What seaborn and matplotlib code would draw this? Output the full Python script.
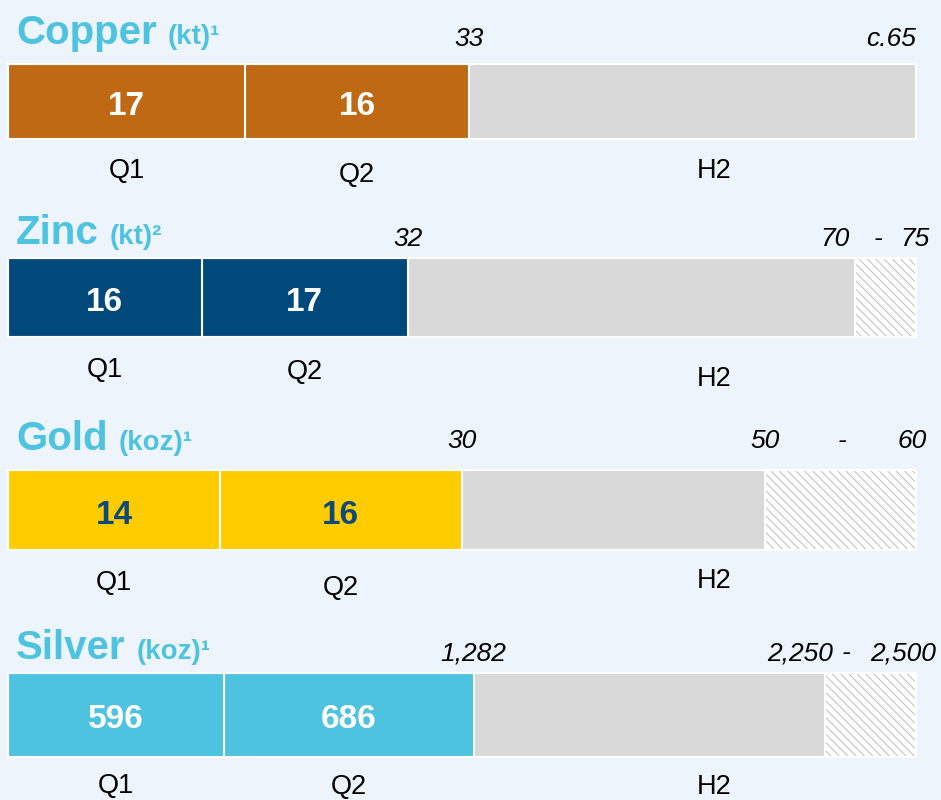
import numpy as np
import pandas as pd
import matplotlib
matplotlib.use('Agg')
from matplotlib import pyplot as plt
import seaborn as sns


metals = ['Copper', 'Zinc', 'Gold', 'Silver']
units = ['(kt)¹', '(kt)²', '(koz)¹', '(koz)¹']
q1 = [17, 16, 14, 596]
q2 = [16, 17, 16, 686]
guide_low = [65, 70, 50, 2250]
guide_high = [65, 75, 60, 2500]
q1_labels = ['17', '16', '14', '596']
q2_labels = ['16', '17', '16', '686']
h1_labels = ['33', '32', '30', '1,282']
low_labels = ['c.65', '70', '50', '2,250']
high_labels = [None, '75', '60', '2,500']
periods = ['Q1', 'Q2', 'H2']

bar_colors = ['#BF6914', '#00497A', '#FFCC00', '#4EC3E0']
value_colors = ['white', 'white', '#0D4A7A', 'white']

BG = '#EEF4FC'
GREY = '#D9D9D9'
HATCH = '#BDBDBD'
TITLE_COLOR = '#4EC3E0'

# layout, in pixels of the 941 x 800 figure
W, H = 941, 800
bar_left, bar_right = 8, 916
bar_rows = [(64, 139), (258, 337), (470, 550), (673, 757)]
title_dy = [20, 14, 20, 14]
total_dy = [17.5, 12.5, 22.5, 12.5]
period_dy = [(39, 43, 39), (40, 42, 49), (40, 45, 38), (36, 37, 37)]
low_pos = [('right', 0), ('right', -6), ('center', 0), ('right', 8)]
dash_dx = [None, 23, 77, 21]
high_pos = [None, ('center', -1), ('center', -4), ('right', 20)]
H2_X = 0.778
PT = 0.72  # px -> points at 100 dpi


def put(ax, text, x, yfrac, dx, dy, xcoords='data', **kw):
    """文字标注，偏移量以像素计"""
    return ax.annotate(text, xy=(x, yfrac), xycoords=(xcoords, 'axes fraction'),
                       xytext=(dx * PT, dy * PT), textcoords='offset points',
                       annotation_clip=False, **kw)


def segment(ax, metal, start, width, **kw):
    sns.barplot(x=[width], y=[metal], orient='h', left=start, width=1,
                saturation=1, errorbar=None, clip_on=False, ax=ax, **kw)


sns.set_theme(style='white')
plt.rcParams['font.family'] = ['Liberation Sans', 'DejaVu Sans']
plt.rcParams['hatch.linewidth'] = 0.7

fig = plt.figure(figsize=(W / 100, H / 100), dpi=100, facecolor=BG)

for i, metal in enumerate(metals):
    top, bottom = bar_rows[i]
    ax = fig.add_axes([bar_left / W, 1 - bottom / H,
                       (bar_right - bar_left) / W, (bottom - top) / H])
    h1_end = q1[i] + q2[i]

    # 指引区间（斜线填充）
    if guide_high[i] > guide_low[i]:
        segment(ax, metal, guide_low[i], guide_high[i] - guide_low[i],
                color='white', hatch='\\\\\\\\', edgecolor=HATCH, linewidth=0)
    segment(ax, metal, h1_end, guide_low[i] - h1_end,
            color=GREY, edgecolor='white', linewidth=1.5)
    segment(ax, metal, q1[i], q2[i],
            color=bar_colors[i], edgecolor='white', linewidth=1.5)
    segment(ax, metal, 0, q1[i],
            color=bar_colors[i], edgecolor='white', linewidth=1.5)
    segment(ax, metal, 0, guide_high[i], fill=False, color='white', linewidth=1.5)

    ax.set_xlim(0, guide_high[i])
    ax.set_ylim(0.5, -0.5)
    ax.axis('off')

    # 标题
    title = put(ax, metal, 0, 1, 8, title_dy[i], xcoords='axes fraction',
                ha='left', va='baseline', fontsize=29, fontweight='bold',
                color=TITLE_COLOR)
    ax.annotate(units[i], xy=(1, 1), xycoords=(title, 'axes fraction'),
                xytext=(11 * PT, title_dy[i] * PT), textcoords='offset points',
                ha='left', va='baseline', fontsize=20, fontweight='bold',
                color=TITLE_COLOR, annotation_clip=False)

    # 柱内数值
    value_kw = dict(ha='center', va='baseline', fontsize=24, fontweight='bold',
                    color=value_colors[i])
    put(ax, q1_labels[i], q1[i] / 2, 0.5, 0, -13.5, **value_kw)
    put(ax, q2_labels[i], q1[i] + q2[i] / 2, 0.5, 0, -13.5, **value_kw)

    # 期间标签
    period_kw = dict(ha='center', va='baseline', fontsize=19.5, color='black')
    put(ax, periods[0], q1[i] / 2, 0, 0, -period_dy[i][0], **period_kw)
    put(ax, periods[1], q1[i] + q2[i] / 2, 0, 0, -period_dy[i][1], **period_kw)
    put(ax, periods[2], H2_X, 0, 0, -period_dy[i][2], xcoords='axes fraction',
        **period_kw)

    # 累计与全年指引
    total_kw = dict(va='baseline', fontsize=19, fontstyle='italic', color='black')
    put(ax, h1_labels[i], h1_end, 1, 0, total_dy[i], ha='center', **total_kw)
    ha, dx = low_pos[i]
    put(ax, low_labels[i], guide_low[i], 1, dx, total_dy[i], ha=ha, **total_kw)
    if high_labels[i] is not None:
        put(ax, '-', guide_low[i], 1, dash_dx[i], total_dy[i], ha='center', **total_kw)
        ha, dx = high_pos[i]
        put(ax, high_labels[i], guide_high[i], 1, dx, total_dy[i], ha=ha, **total_kw)

fig.savefig('out.png', dpi=100, facecolor=BG)
